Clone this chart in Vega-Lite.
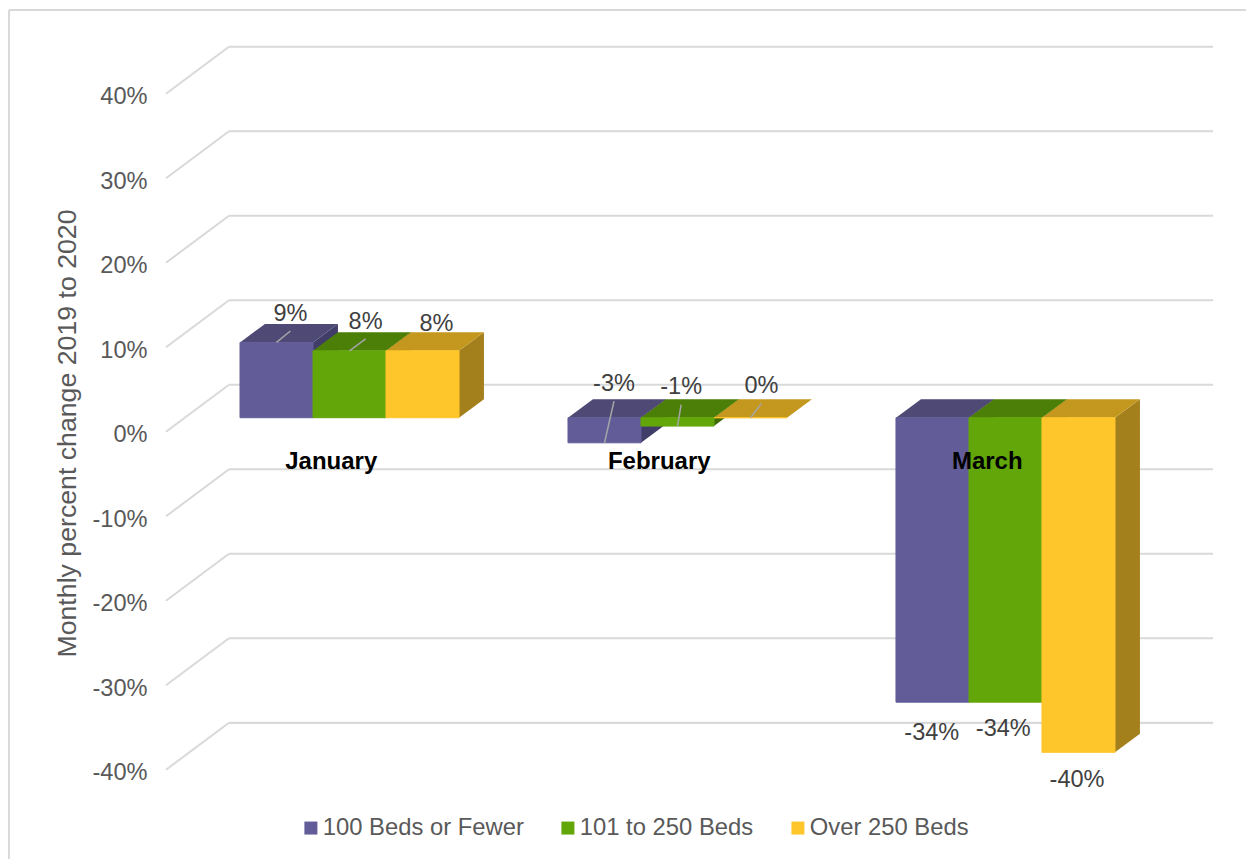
{
  "$schema": "https://vega.github.io/schema/vega-lite/v6.json",
  "width": 1246,
  "height": 859,
  "padding": 0,
  "autosize": {"type": "none"},
  "background": "white",
  "view": {"stroke": null},
  "config": {"font": "Liberation Sans"},
  "datasets": {
    "beds": [
      {"month": "January", "series": "100 Beds or Fewer", "value": 9},
      {"month": "January", "series": "101 to 250 Beds", "value": 8},
      {"month": "January", "series": "Over 250 Beds", "value": 8},
      {"month": "February", "series": "100 Beds or Fewer", "value": -3},
      {"month": "February", "series": "101 to 250 Beds", "value": -1},
      {"month": "February", "series": "Over 250 Beds", "value": 0},
      {"month": "March", "series": "100 Beds or Fewer", "value": -34},
      {"month": "March", "series": "101 to 250 Beds", "value": -34},
      {"month": "March", "series": "Over 250 Beds", "value": -40}
    ],
    "levels": [
      {"level": 40}, {"level": 30}, {"level": 20}, {"level": 10}, {"level": 0},
      {"level": -10}, {"level": -20}, {"level": -30}, {"level": -40}
    ]
  },
  "data": {"name": "beds"},
  "transform": [
    {"calculate": "indexof(['January','February','March'], datum.month)", "as": "m"},
    {"calculate": "indexof(['100 Beds or Fewer','101 to 250 Beds','Over 250 Beds'], datum.series)", "as": "s"},
    {"calculate": "datum.m * 4.493 + datum.s", "as": "left"},
    {"calculate": "datum.left + 1", "as": "right"},
    {"calculate": "max(datum.value, 0) * 0.99", "as": "top"},
    {"calculate": "min(datum.value, 0) * 0.99", "as": "bottom"},
    {"calculate": "datum.value * 0.99", "as": "tip"},
    {"calculate": "datum.month + ' ' + datum.series", "as": "bar"},
    {"calculate": "datum.left + 0.5 + [[0.19,0.22,0.19],[0.13,0.05,0.15],[-0.01,-0.03,-0.02]][datum.m][datum.s]", "as": "labelX"},
    {"calculate": "(datum.m < 2 ? datum.top : datum.bottom) + [[3.4,3.45,3.2],[4,3.6,3.75],[-3.6,-3.2,-3.3]][datum.m][datum.s]", "as": "labelV"},
    {"calculate": "datum.value + '%'", "as": "label"}
  ],
  "layer": [
    {
      "description": "Left edge of the frame",
      "data": {"values": [{"edge": "left"}]},
      "mark": {"type": "rule", "stroke": "#D9D9D9", "strokeWidth": 2},
      "encoding": {
        "x": {"datum": -3.164, "type": "quantitative", "scale": {"domain": [-3.2877, 13.7808], "nice": false, "zero": false}, "axis": null},
        "y": {"datum": 48.25, "type": "quantitative", "scale": {"domain": [-52.22, 49.43], "nice": false, "zero": false}},
        "y2": {"datum": -52.22}
      }
    },
    {
      "description": "Top edge of the frame",
      "data": {"values": [{"edge": "top"}]},
      "mark": {"type": "rule", "stroke": "#D9D9D9", "strokeWidth": 2},
      "encoding": {
        "x": {"datum": -3.164, "type": "quantitative", "scale": {"domain": [-3.2877, 13.7808], "nice": false, "zero": false}, "axis": null},
        "x2": {"datum": 13.7808},
        "y": {"datum": 48.25, "type": "quantitative", "scale": {"domain": [-52.22, 49.43], "nice": false, "zero": false}}
      }
    },
    {
      "description": "Gridlines on the back wall, with the percent axis set on the front edge of the box",
      "data": {"name": "levels"},
      "transform": [{"calculate": "datum.level + 3.9", "as": "back"}],
      "mark": {"type": "rule", "stroke": "#D9D9D9", "strokeWidth": 2.2},
      "encoding": {
        "x": {"datum": -0.151, "type": "quantitative", "scale": {"domain": [-3.2877, 13.7808], "nice": false, "zero": false}, "axis": null},
        "x2": {"datum": 13.33},
        "y": {
          "field": "back",
          "type": "quantitative",
          "scale": {"domain": [-52.22, 49.43], "nice": false, "zero": false},
          "axis": {
            "values": [40, 30, 20, 10, 0, -10, -20, -30, -40],
            "labelExpr": "datum.value + '%'",
            "orient": "left",
            "offset": -150,
            "domain": false,
            "ticks": false,
            "grid": false,
            "labelPadding": 3,
            "labelOffset": 17,
            "labelFontSize": 23.6,
            "labelColor": "#595959",
            "labelOverlap": false,
            "labelFlush": false,
            "title": "Monthly percent change 2019 to 2020",
            "titleFontSize": 26.7,
            "titleFontWeight": "normal",
            "titleColor": "#595959",
            "titleAngle": -90,
            "titleX": -83,
            "titleY": 433,
            "titleAlign": "center",
            "titleBaseline": "middle"
          }
        }
      }
    },
    {
      "description": "Gridlines running across the floor of the 3D box",
      "data": {"name": "levels"},
      "transform": [
        {"calculate": "datum.level + 3.9", "as": "back"},
        {"calculate": "datum.level - 1.66", "as": "front"}
      ],
      "mark": {"type": "rule", "stroke": "#D9D9D9", "strokeWidth": 2},
      "encoding": {
        "x": {"datum": -1.014, "type": "quantitative", "scale": {"domain": [-3.2877, 13.7808], "nice": false, "zero": false}, "axis": null},
        "x2": {"datum": -0.151},
        "y": {"field": "front", "type": "quantitative", "scale": {"domain": [-52.22, 49.43], "nice": false, "zero": false}},
        "y2": {"field": "back"}
      }
    },
    {
      "description": "Right side face of each bar",
      "transform": [
        {"calculate": "[0, 1]", "as": "c"},
        {"flatten": ["c"]},
        {"calculate": "datum.right + datum.c * 0.342", "as": "px"},
        {"calculate": "datum.top + datum.c * 2.19", "as": "py"},
        {"calculate": "datum.bottom + datum.c * 2.19", "as": "py2"},
        {"calculate": "['#413D69','#3F6B06','#A4801C'][datum.s]", "as": "shade"}
      ],
      "mark": {"type": "area", "opacity": 1},
      "encoding": {
        "x": {"field": "px", "type": "quantitative", "scale": {"domain": [-3.2877, 13.7808], "nice": false, "zero": false}, "axis": null},
        "y": {"field": "py", "type": "quantitative", "scale": {"domain": [-52.22, 49.43], "nice": false, "zero": false}},
        "y2": {"field": "py2"},
        "detail": {"field": "bar"},
        "fill": {"field": "shade", "type": "nominal", "scale": null}
      }
    },
    {
      "description": "Top face of each bar",
      "transform": [
        {"calculate": "[0, 1, 2, 3]", "as": "c"},
        {"flatten": ["c"]},
        {"calculate": "[datum.left, datum.left + 0.342, datum.right, datum.right + 0.342][datum.c]", "as": "px"},
        {"calculate": "datum.top + (datum.c > 0 ? 2.19 : 0)", "as": "py"},
        {"calculate": "datum.top + (datum.c > 2 ? 2.19 : 0)", "as": "py2"},
        {"calculate": "['#4E4975','#4B7F07','#C4981F'][datum.s]", "as": "shade"}
      ],
      "mark": {"type": "area", "opacity": 1},
      "encoding": {
        "x": {"field": "px", "type": "quantitative", "scale": {"domain": [-3.2877, 13.7808], "nice": false, "zero": false}, "axis": null},
        "y": {"field": "py", "type": "quantitative", "scale": {"domain": [-52.22, 49.43], "nice": false, "zero": false}},
        "y2": {"field": "py2"},
        "detail": {"field": "bar"},
        "fill": {"field": "shade", "type": "nominal", "scale": null}
      }
    },
    {
      "description": "Front face of each bar, which also carries the legend",
      "mark": {"type": "rect", "strokeWidth": 1},
      "encoding": {
        "x": {"field": "left", "type": "quantitative", "scale": {"domain": [-3.2877, 13.7808], "nice": false, "zero": false}, "axis": null},
        "x2": {"field": "right"},
        "y": {"field": "top", "type": "quantitative", "scale": {"domain": [-52.22, 49.43], "nice": false, "zero": false}},
        "y2": {"field": "bottom"},
        "color": {
          "field": "series",
          "type": "nominal",
          "scale": {"domain": ["100 Beds or Fewer", "101 to 250 Beds", "Over 250 Beds"], "range": ["#625C99", "#63A60A", "#FFC62B"]},
          "legend": {
            "title": null,
            "orient": "none",
            "direction": "horizontal",
            "legendX": 299,
            "legendY": 816,
            "symbolType": "square",
            "symbolSize": 169,
            "symbolStrokeWidth": 0,
            "labelFontSize": 23.8,
            "labelColor": "#595959",
            "labelOffset": 0,
            "columnPadding": 32,
            "labelLimit": 300
          }
        },
        "stroke": {
          "field": "series",
          "type": "nominal",
          "scale": {"domain": ["100 Beds or Fewer", "101 to 250 Beds", "Over 250 Beds"], "range": ["#625C99", "#63A60A", "#FFC62B"]},
          "legend": null
        }
      }
    },
    {
      "description": "Leader lines from the bars up to their value labels",
      "transform": [
        {"filter": "datum.m < 2 && !(datum.m === 0 && datum.s === 2)"},
        {"calculate": "datum.left + 0.5", "as": "center"},
        {"calculate": "datum.labelV - 2.05", "as": "leaderEnd"}
      ],
      "mark": {"type": "rule", "stroke": "#A6A6A6", "strokeWidth": 1.5},
      "encoding": {
        "x": {"field": "center", "type": "quantitative", "scale": {"domain": [-3.2877, 13.7808], "nice": false, "zero": false}, "axis": null},
        "x2": {"field": "labelX"},
        "y": {"field": "tip", "type": "quantitative", "scale": {"domain": [-52.22, 49.43], "nice": false, "zero": false}},
        "y2": {"field": "leaderEnd"}
      }
    },
    {
      "description": "Value labels",
      "mark": {"type": "text", "fontSize": 23.5, "color": "#404040", "align": "center", "baseline": "middle"},
      "encoding": {
        "x": {"field": "labelX", "type": "quantitative", "scale": {"domain": [-3.2877, 13.7808], "nice": false, "zero": false}, "axis": null},
        "y": {"field": "labelV", "type": "quantitative", "scale": {"domain": [-52.22, 49.43], "nice": false, "zero": false}},
        "text": {"field": "label", "type": "nominal"}
      }
    },
    {
      "description": "Month names under the zero plane",
      "transform": [
        {"filter": "datum.s === 1"},
        {"calculate": "datum.left + 0.25", "as": "monthX"}
      ],
      "mark": {"type": "text", "fontSize": 24, "fontWeight": "bold", "color": "#000000", "align": "center", "baseline": "middle"},
      "encoding": {
        "x": {"field": "monthX", "type": "quantitative", "scale": {"domain": [-3.2877, 13.7808], "nice": false, "zero": false}, "axis": null},
        "y": {"datum": -5.22, "type": "quantitative", "scale": {"domain": [-52.22, 49.43], "nice": false, "zero": false}},
        "text": {"field": "month", "type": "nominal"}
      }
    }
  ]
}
